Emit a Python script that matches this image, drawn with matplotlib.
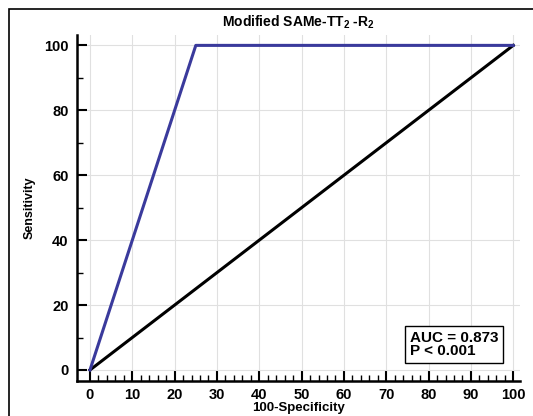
import matplotlib
matplotlib.use('Agg')
import matplotlib.pyplot as plt
import numpy as np
from matplotlib.patches import Rectangle

plt.rcParams['font.family'] = ['Liberation Sans', 'DejaVu Sans']
plt.rcParams['mathtext.fontset'] = 'custom'
plt.rcParams['mathtext.bf'] = 'Liberation Sans:bold'
plt.rcParams['mathtext.rm'] = 'Liberation Sans:bold'

#### data
roc_x = [0, 25, 100]
roc_y = [0, 100, 100]
ref_x = [0, 100]
ref_y = [0, 100]
auc_text = 'AUC = 0.873\nP < 0.001'
x_ticks = list(range(0, 101, 10))
y_ticks = list(range(0, 101, 20))

#### plot
fig = plt.figure(figsize=(5.33, 4.16), dpi=100)
fig.patches.append(Rectangle((9/533, -0.1), 1.2, 1 - 9/416 + 0.1, transform=fig.transFigure,
                             fill=False, edgecolor='black', linewidth=1.2))
ax = fig.add_axes([77/533, 1 - 381/416, (520 - 77)/533, (381 - 35)/416])

ax.plot(ref_x, ref_y, color='black', lw=2.2, zorder=3)
ax.plot(roc_x, roc_y, color='#3a3a9c', lw=2.2, zorder=4)

ax.set_xlim(-3.07, 101.6)
ax.set_ylim(-3.4, 103.2)
ax.set_xticks(x_ticks)
ax.set_yticks(y_ticks)
ax.set_xticks(np.arange(0, 101, 2), minor=True)
ax.set_yticks(np.arange(0, 101, 10), minor=True)
ax.grid(True, which='major', color='#e0e0e0', lw=0.8, zorder=0)

for s in ['top', 'right']:
    ax.spines[s].set_visible(False)
for s in ['left', 'bottom']:
    ax.spines[s].set_linewidth(1.8)

ax.tick_params(which='major', direction='in', length=7, width=1.5, labelsize=10.5)
ax.tick_params(which='minor', direction='in', length=4, width=1.0)
for lab in ax.get_xticklabels() + ax.get_yticklabels():
    lab.set_fontweight('bold')
ax.tick_params(axis='x', pad=5)
ax.tick_params(axis='y', pad=6)

ax.set_xlabel('100-Specificity', fontsize=9.5, fontweight='bold', labelpad=0)
ax.set_ylabel('Sensitivity', fontsize=9, fontweight='bold', labelpad=6)
ax.set_title(r'Modified SAMe-TT$_2$ -R$_2$', fontsize=10, fontweight='bold', pad=6)

ax.text(75.5, 7.9, auc_text, fontsize=11, fontweight='bold', va='center', ha='left', zorder=6,
        linespacing=0.95,
        bbox=dict(boxstyle='square,pad=0.3', fc='white', ec='black', lw=1.0))

fig.savefig('out.png', dpi=100)
